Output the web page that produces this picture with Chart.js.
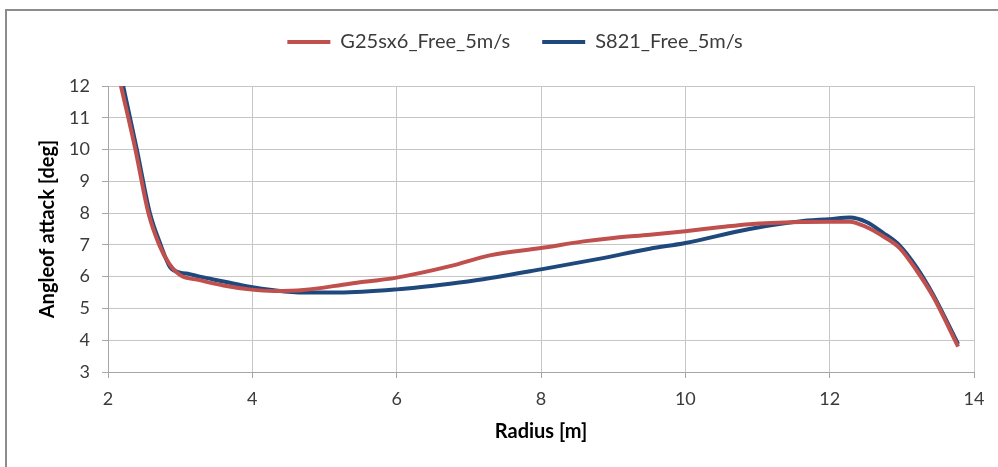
<!DOCTYPE html>
<html>
<head>
<meta charset="utf-8">
<script src="https://cdn.jsdelivr.net/npm/chart.js@4"></script>
<style>
  body { margin: 0; background: #fff; }
  #wrap { position: relative; width: 998px; height: 467px; overflow: hidden; }
  #frame { position: absolute; left: 5px; top: 9px; width: 1100px; height: 600px;
           border-left: 2px solid #8c8c8c; border-top: 2px solid #8c8c8c; }
  canvas { position: absolute; left: 0; top: 0; }
</style>
</head>
<body>
<div id="wrap">
  <div id="frame"></div>
  <canvas id="aoaChart" width="998" height="467"></canvas>
</div>
<script>
// G25sx6_Free_5m/s
const g25Radius = [2.10, 2.18, 2.38, 2.56, 2.71, 2.85, 3.00, 3.27, 3.60, 3.96, 4.30, 4.71, 5.35, 6.00, 6.74, 7.29, 8.00, 8.59, 9.00, 9.51, 10.00, 10.50, 10.89, 11.58, 12.00, 12.28, 12.50, 12.74, 12.97, 13.20, 13.43, 13.78];
const g25Angle  = [12.8, 12.0, 10.0, 8.0, 7.0, 6.4, 6.05, 5.89, 5.72, 5.60, 5.55, 5.58, 5.78, 5.97, 6.33, 6.67, 6.90, 7.11, 7.22, 7.32, 7.43, 7.56, 7.65, 7.72, 7.73, 7.73, 7.57, 7.27, 6.90, 6.21, 5.39, 3.80];

// S821_Free_5m/s
const s821Radius = [2.12, 2.21, 2.40, 2.58, 2.73, 2.86, 3.00, 3.13, 3.27, 3.60, 3.96, 4.30, 4.71, 5.20, 6.00, 6.74, 7.20, 8.00, 8.80, 9.51, 10.00, 10.89, 11.58, 12.00, 12.28, 12.51, 12.74, 12.97, 13.20, 13.43, 13.78];
const s821Angle  = [12.9, 12.0, 10.0, 8.0, 7.0, 6.3, 6.13, 6.08, 6.00, 5.85, 5.68, 5.57, 5.50, 5.50, 5.60, 5.78, 5.92, 6.23, 6.56, 6.88, 7.06, 7.50, 7.74, 7.81, 7.86, 7.72, 7.38, 6.98, 6.31, 5.45, 3.88];

const seriesNames = ["G25sx6_Free_5m/s", "S821_Free_5m/s"];
const seriesColors = ["#c0504d", "#1f497d"];

const xTicks = [2, 4, 6, 8, 10, 12, 14];
const yTicks = [3, 4, 5, 6, 7, 8, 9, 10, 11, 12];

function toPoints(xs, ys) {
  return xs.map((x, i) => ({ x: x, y: ys[i] }));
}

const gridColor = "#c6c6c6";
const axisColor = "#a6a6a6";
const textColor = "#3b3b3b";
const fontFamily = "Lato, 'Open Sans', sans-serif";

// extra room between the legend and the plot area
const legendSpacer = {
  id: "legendSpacer",
  beforeInit(chart) {
    const fit = chart.legend.fit;
    chart.legend.fit = function () {
      fit.bind(chart.legend)();
      this.height += 24;
    };
  }
};

function lineDataset(i, xs, ys) {
  return {
    label: seriesNames[i],
    data: toPoints(xs, ys),
    borderColor: seriesColors[i],
    backgroundColor: seriesColors[i],
    borderWidth: 4,
    showLine: true,
    pointRadius: 0,
    cubicInterpolationMode: "monotone",
    clip: 0
  };
}

new Chart(document.getElementById("aoaChart"), {
  type: "scatter",
  data: {
    datasets: [
      lineDataset(0, g25Radius, g25Angle),
      lineDataset(1, s821Radius, s821Angle)
    ]
  },
  plugins: [legendSpacer],
  options: {
    responsive: false,
    animation: false,
    layout: { padding: { left: 56, right: 24, top: 0, bottom: 0 } },
    plugins: {
      tooltip: { enabled: false },
      legend: {
        position: "top",
        labels: {
          boxWidth: 43,
          boxHeight: 4,
          padding: 32,
          color: textColor,
          font: { family: fontFamily, size: 20 },
          generateLabels: chart => chart.data.datasets.map((ds, i) => ({
            text: ds.label,
            fillStyle: seriesColors[i],
            strokeStyle: seriesColors[i],
            lineWidth: 0,
            datasetIndex: i,
            fontColor: textColor
          }))
        }
      }
    },
    scales: {
      x: {
        type: "linear",
        min: xTicks[0],
        max: xTicks[xTicks.length - 1],
        afterFit: s => { s.height = 95; },
        afterBuildTicks: s => { s.ticks = xTicks.map(v => ({ value: v })); },
        grid: { color: gridColor, tickLength: 6, tickColor: axisColor },
        border: { color: axisColor, width: 1 },
        ticks: { color: textColor, padding: 10, font: { family: fontFamily, size: 18 } },
        title: {
          display: true,
          text: "Radius [m]",
          color: "#000",
          font: { family: fontFamily, size: 20, weight: "bold" },
          padding: { top: 0, bottom: 23 }
        }
      },
      y: {
        min: yTicks[0],
        max: yTicks[yTicks.length - 1],
        afterFit: s => { s.width = 52; },
        afterBuildTicks: s => { s.ticks = yTicks.map(v => ({ value: v })); },
        grid: { color: gridColor, tickLength: 6, tickColor: axisColor },
        border: { color: axisColor, width: 1 },
        ticks: { color: textColor, padding: 12, font: { family: fontFamily, size: 18 } },
        title: {
          display: true,
          text: "Angleof attack [deg]",
          color: "#000",
          font: { family: fontFamily, size: 20, weight: "bold" },
          padding: { top: -20, bottom: 0 }
        }
      }
    }
  }
});
</script>
</body>
</html>
